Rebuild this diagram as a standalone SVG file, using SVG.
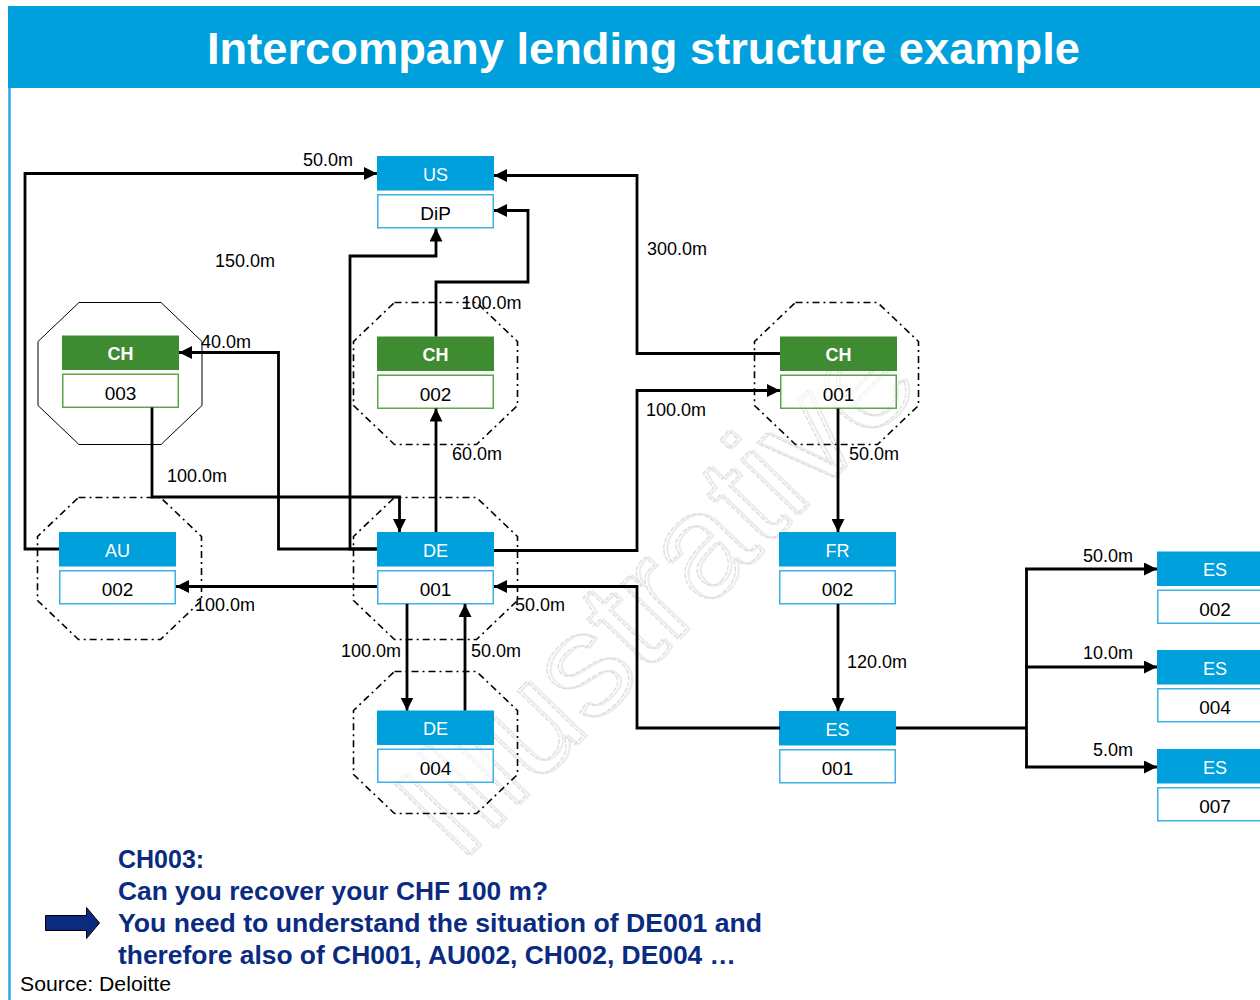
<svg xmlns="http://www.w3.org/2000/svg" xmlns:xlink="http://www.w3.org/1999/xlink" width="1260" height="1000" viewBox="0 0 1260 1000">
  <defs>
    <style>
      .title { font-family: "Liberation Sans", Arial, sans-serif; font-weight: bold; font-size: 45px; fill: #ffffff; }
      .hdr-blue { fill: #00A0DC; }
      .hdr-green { fill: #3E8B31; }
      .box-blue { fill: #ffffff; stroke: #3DB1E6; stroke-width: 1.5; }
      .box-green { fill: #ffffff; stroke: #5AA64A; stroke-width: 1.5; }
      .hdr-txt { font-family: "Liberation Sans", Arial, sans-serif; font-size: 18px; fill: #ffffff; text-anchor: middle; }
      .hdr-txt-b { font-family: "Liberation Sans", Arial, sans-serif; font-size: 18px; font-weight: bold; fill: #ffffff; text-anchor: middle; }
      .box-txt { font-family: "Liberation Sans", Arial, sans-serif; font-size: 19px; fill: #000000; text-anchor: middle; }
      .oct-dash { fill: none; stroke: #000000; stroke-width: 1.6; stroke-dasharray: 7 4 2 4; }
      .oct-solid { fill: none; stroke: #000000; stroke-width: 1; }
      .link { fill: none; stroke: #000000; stroke-width: 2.8; stroke-linejoin: miter; }
      .arr { marker-end: url(#head); }
      .lbl { font-family: "Liberation Sans", Arial, sans-serif; font-size: 18px; fill: #000000; }
      .note { font-family: "Liberation Sans", Arial, sans-serif; font-size: 25px; font-weight: bold; fill: #0A2B7F; }
      .src { font-family: "Liberation Sans", Arial, sans-serif; font-size: 20px; fill: #000000; }
      .wm { font-family: "Liberation Sans", Arial, sans-serif; font-size: 148px; }
    </style>
    <marker id="head" markerUnits="userSpaceOnUse" markerWidth="14" markerHeight="13" refX="13" refY="6.5" orient="auto">
      <path d="M0,0 L13,6.5 L0,13 Z" fill="#000000"/>
    </marker>
    <polygon id="oct" points="-41,-71 41,-71 82,-32 82,32 41,71 -41,71 -82,32 -82,-32"/>
  </defs>

  <rect x="0" y="0" width="1260" height="1000" fill="#ffffff"/>

  <!-- header band and frame -->
  <rect x="8" y="6" width="1252" height="82" fill="#00A0DC"/>
  <line x1="9.5" y1="88" x2="9.5" y2="1000" stroke="#2AA8E0" stroke-width="2.5"/>
  <text class="title" x="643.5" y="64" text-anchor="middle" textLength="873" lengthAdjust="spacingAndGlyphs">Intercompany lending structure example</text>

  <!-- diagonal "Illustrative" stamp -->
  <g id="watermark" transform="translate(690,625) rotate(-46)" opacity="0.8">
    <text class="wm" x="2.5" y="2.5" text-anchor="middle" fill="none" stroke="#e8e8e8" stroke-width="2.2">Illustrative</text>
    <text class="wm" x="0" y="0" text-anchor="middle" fill="none" stroke="#d2d2d2" stroke-width="1.2" stroke-dasharray="5 1.5">Illustrative</text>
  </g>

  <!-- entities -->
  <g id="node-us-dip">
    <rect class="hdr-blue" x="377" y="156" width="117" height="34.5"/>
    <text class="hdr-txt" x="435.5" y="180.5">US</text>
    <rect class="box-blue" x="377.75" y="194.75" width="115.5" height="33"/>
    <text class="box-txt" x="435.5" y="220">DiP</text>
  </g>

  <g id="node-ch003">
    <use xlink:href="#oct" href="#oct" class="oct-solid" x="120" y="373.5"/>
    <rect class="hdr-green" x="62" y="335.5" width="117" height="34.5"/>
    <text class="hdr-txt-b" x="120.5" y="360">CH</text>
    <rect class="box-green" x="62.75" y="374.25" width="115.5" height="33"/>
    <text class="box-txt" x="120.5" y="399.5">003</text>
  </g>

  <g id="node-ch002">
    <use xlink:href="#oct" href="#oct" class="oct-dash" x="435.5" y="373.5"/>
    <rect class="hdr-green" x="377" y="336.5" width="117" height="34.5"/>
    <text class="hdr-txt-b" x="435.5" y="361">CH</text>
    <rect class="box-green" x="377.75" y="375.25" width="115.5" height="33"/>
    <text class="box-txt" x="435.5" y="400.5">002</text>
  </g>

  <g id="node-ch001">
    <use xlink:href="#oct" href="#oct" class="oct-dash" x="836.5" y="373.5"/>
    <rect class="hdr-green" x="780" y="336.5" width="117" height="34.5"/>
    <text class="hdr-txt-b" x="838.5" y="361">CH</text>
    <rect class="box-green" x="780.75" y="375.25" width="115.5" height="33" fill-opacity="0.6"/>
    <text class="box-txt" x="838.5" y="400.5">001</text>
  </g>

  <g id="node-au002">
    <use xlink:href="#oct" href="#oct" class="oct-dash" x="119.5" y="568.5"/>
    <rect class="hdr-blue" x="59" y="532" width="117" height="34.5"/>
    <text class="hdr-txt" x="117.5" y="556.5">AU</text>
    <rect class="box-blue" x="59.75" y="570.75" width="115.5" height="33"/>
    <text class="box-txt" x="117.5" y="596">002</text>
  </g>

  <g id="node-de001">
    <use xlink:href="#oct" href="#oct" class="oct-dash" x="435.5" y="568.5"/>
    <rect class="hdr-blue" x="377" y="532" width="117" height="34.5"/>
    <text class="hdr-txt" x="435.5" y="556.5">DE</text>
    <rect class="box-blue" x="377.75" y="570.75" width="115.5" height="33"/>
    <text class="box-txt" x="435.5" y="596">001</text>
  </g>

  <g id="node-de004">
    <use xlink:href="#oct" href="#oct" class="oct-dash" x="435.5" y="742.5"/>
    <rect class="hdr-blue" x="377" y="710.5" width="117" height="34.5"/>
    <text class="hdr-txt" x="435.5" y="735">DE</text>
    <rect class="box-blue" x="377.75" y="749.25" width="115.5" height="33" fill-opacity="0.6"/>
    <text class="box-txt" x="435.5" y="774.5">004</text>
  </g>

  <g id="node-fr002">
    <rect class="hdr-blue" x="779" y="532" width="117" height="34.5"/>
    <text class="hdr-txt" x="837.5" y="556.5">FR</text>
    <rect class="box-blue" x="779.75" y="570.75" width="115.5" height="33"/>
    <text class="box-txt" x="837.5" y="596">002</text>
  </g>

  <g id="node-es001">
    <rect class="hdr-blue" x="779" y="711" width="117" height="34.5"/>
    <text class="hdr-txt" x="837.5" y="735.5">ES</text>
    <rect class="box-blue" x="779.75" y="749.75" width="115.5" height="33"/>
    <text class="box-txt" x="837.5" y="775">001</text>
  </g>

  <g id="node-es002">
    <rect class="hdr-blue" x="1157" y="551.5" width="117" height="34.5"/>
    <text class="hdr-txt" x="1215" y="576">ES</text>
    <rect class="box-blue" x="1157.75" y="590.25" width="115.5" height="33"/>
    <text class="box-txt" x="1215" y="615.5">002</text>
  </g>

  <g id="node-es004">
    <rect class="hdr-blue" x="1157" y="650" width="117" height="34.5"/>
    <text class="hdr-txt" x="1215" y="674.5">ES</text>
    <rect class="box-blue" x="1157.75" y="688.75" width="115.5" height="33"/>
    <text class="box-txt" x="1215" y="714">004</text>
  </g>

  <g id="node-es007">
    <rect class="hdr-blue" x="1157" y="749" width="117" height="34.5"/>
    <text class="hdr-txt" x="1215" y="773.5">ES</text>
    <rect class="box-blue" x="1157.75" y="787.75" width="115.5" height="33"/>
    <text class="box-txt" x="1215" y="813">007</text>
  </g>

  <!-- loans between entities -->
  <g id="connectors">
    <path class="link arr" d="M59,549 H25 V173.5 H377"/>
    <path class="link arr" d="M780,353.5 H637 V175.5 H494"/>
    <path class="link arr" d="M436,336.5 V282 H528 V210.5 H494"/>
    <path class="link arr" d="M377,549 H350 V256 H436 V228.5"/>
    <path class="link arr" d="M377,549 H278.5 V352.5 H179"/>
    <path class="link arr" d="M152,407.5 V497 H399.5 V532"/>
    <path class="link arr" d="M436,532 V408.5"/>
    <path class="link arr" d="M494,550.5 H637 V390.5 H780"/>
    <path class="link arr" d="M838,408.5 V532"/>
    <path class="link arr" d="M838,604 V711"/>
    <path class="link arr" d="M780,728 H637 V586.5 H494"/>
    <path class="link arr" d="M377,586.5 H176"/>
    <path class="link arr" d="M407,604 V710.5"/>
    <path class="link arr" d="M465,710.5 V604"/>
    <path class="link" d="M896,728 H1026.5"/>
    <path class="link" d="M1026.5,569 V767"/>
    <path class="link arr" d="M1025,569 H1157"/>
    <path class="link arr" d="M1025,667 H1157"/>
    <path class="link arr" d="M1025,767 H1157"/>

    <text class="lbl" x="353" y="166" text-anchor="end">50.0m</text>
    <text class="lbl" x="215" y="266.5">150.0m</text>
    <text class="lbl" x="647" y="255">300.0m</text>
    <text class="lbl" x="461.5" y="309">100.0m</text>
    <text class="lbl" x="201" y="347.5">40.0m</text>
    <text class="lbl" x="452" y="460">60.0m</text>
    <text class="lbl" x="646" y="416">100.0m</text>
    <text class="lbl" x="849" y="459.5">50.0m</text>
    <text class="lbl" x="167" y="481.5">100.0m</text>
    <text class="lbl" x="195" y="610.5">100.0m</text>
    <text class="lbl" x="515" y="610.5">50.0m</text>
    <text class="lbl" x="341" y="656.5">100.0m</text>
    <text class="lbl" x="471" y="656.5">50.0m</text>
    <text class="lbl" x="847" y="667.5">120.0m</text>
    <text class="lbl" x="1133" y="561.5" text-anchor="end">50.0m</text>
    <text class="lbl" x="1133" y="658.5" text-anchor="end">10.0m</text>
    <text class="lbl" x="1133" y="755.5" text-anchor="end">5.0m</text>
  </g>

  <!-- takeaway -->
  <g id="takeaway">
    <text class="note" x="118" y="868">CH003:</text>
    <text class="note" x="118" y="900" textLength="430" lengthAdjust="spacingAndGlyphs">Can you recover your CHF 100 m?</text>
    <polygon points="45.5,915.5 86.5,915.5 86.5,907.5 99.5,923 86.5,938.5 86.5,930.5 45.5,930.5" fill="#0A2B7F" stroke="#000000" stroke-width="1"/>
    <text class="note" x="118" y="932" textLength="644" lengthAdjust="spacingAndGlyphs">You need to understand the situation of DE001 and</text>
    <text class="note" x="118" y="964" textLength="618" lengthAdjust="spacingAndGlyphs">therefore also of CH001, AU002, CH002, DE004 …</text>
    <text class="src" x="20" y="991" textLength="151" lengthAdjust="spacingAndGlyphs">Source: Deloitte</text>
  </g>
</svg>
